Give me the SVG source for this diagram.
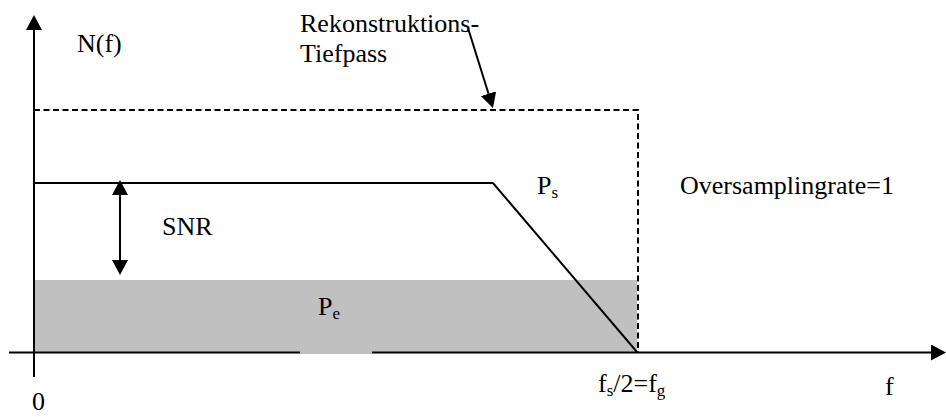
<svg xmlns="http://www.w3.org/2000/svg" width="946" height="417" viewBox="0 0 946 417">
<style>
.t{font-family:'Liberation Serif','Times New Roman',serif;font-size:26px;fill:#000}
.sub{font-size:17px}
.ln{stroke:#000;stroke-width:2;fill:none}
.dash{stroke:#000;stroke-width:2;fill:none;stroke-dasharray:6 3.5}
</style>
<defs>
<marker id="ah" markerUnits="userSpaceOnUse" markerWidth="16" markerHeight="16" refX="0" refY="8" orient="auto-start-reverse" viewBox="0 0 16 16">
<path d="M0,0 L15,8 L0,16 z" fill="#000"/>
</marker>
</defs>
<g id="noise">
<rect x="34" y="280" width="603" height="72" fill="#c0c0c0"/>
</g>
<g id="connectors">
<line id="x-axis" class="ln" x1="9" y1="352.5" x2="931" y2="352.5" marker-end="url(#ah)"/>
<line id="y-axis" class="ln" x1="34" y1="377" x2="34" y2="30" marker-end="url(#ah)"/>
<rect x="300" y="351" width="72" height="3" fill="#c0c0c0"/>
<line id="snr-arrow" class="ln" x1="120" y1="195" x2="120" y2="260" marker-start="url(#ah)" marker-end="url(#ah)"/>
<line id="tp-arrow" class="ln" x1="468" y1="28" x2="488.5" y2="93.7" marker-end="url(#ah)"/>
</g>
<g id="lowpass">
<polyline class="dash" points="34,110 638,110 638,352"/>
</g>
<g id="signal">
<polyline class="ln" points="34,183 493,183 637,352"/>
</g>
<g id="labels" class="t">
<text x="77" y="52">N(f)</text>
<text x="300" y="32">Rekonstruktions-</text>
<text x="300" y="62">Tiefpass</text>
<text x="680" y="194">Oversamplingrate=1</text>
<text x="162" y="235">SNR</text>
<text x="537" y="194">P<tspan class="sub" dy="4">s</tspan></text>
<text x="318" y="315">P<tspan class="sub" dy="4">e</tspan></text>
<text x="598" y="392">f<tspan class="sub" dy="4">s</tspan><tspan dy="-4">/2=f</tspan><tspan class="sub" dy="4">g</tspan></text>
<text x="885" y="395">f</text>
<text x="32" y="410">0</text>
</g>
</svg>
